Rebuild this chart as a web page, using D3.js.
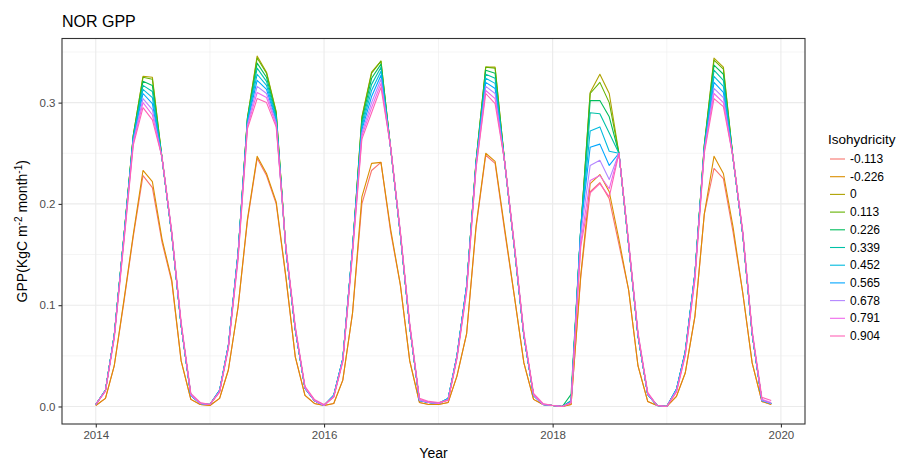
<!DOCTYPE html>
<html>
<head>
<meta charset="utf-8">
<script src="https://cdn.jsdelivr.net/npm/d3@7"></script>
<style>
  body { margin: 0; background: #ffffff; }
  text { font-family: "Liberation Sans", Arial, Helvetica, sans-serif; }
</style>
</head>
<body>
<svg id="chart" width="902" height="461"></svg>
<script>
// Monthly GPP (KgC m-2 month-1) for Norway, one series per isohydricity value
const years = [2014, 2015, 2016, 2017, 2018, 2019];
const monthNumbers = [1, 2, 3, 4, 5, 6, 7, 8, 9, 10, 11, 12];
const isohydricity = ["-0.113", "-0.226", "0", "0.113", "0.226", "0.339", "0.452", "0.565", "0.678", "0.791", "0.904"];
const lineColors = ["#F8766D", "#DB8E00", "#AEA200", "#64B200", "#00BD5C", "#00C1A7", "#00BADE", "#00A6FF", "#B385FF", "#EF67EB", "#FF63B6"];

const gppNeg0113 = [
  0.001, 0.008, 0.04, 0.103, 0.168, 0.228, 0.216, 0.162, 0.123, 0.045, 0.007, 0.002,
  0.001, 0.008, 0.036, 0.098, 0.183, 0.245, 0.228, 0.2, 0.127, 0.049, 0.011, 0.003,
  0.001, 0.003, 0.026, 0.092, 0.2, 0.233, 0.241, 0.172, 0.12, 0.045, 0.004, 0.002,
  0.002, 0.004, 0.03, 0.072, 0.176, 0.248, 0.24, 0.172, 0.108, 0.043, 0.007, 0.002,
  0.001, 0.0, 0.002, 0.128, 0.212, 0.221, 0.205, 0.16, 0.115, 0.04, 0.005, 0.001,
  0.0, 0.01, 0.033, 0.089, 0.19, 0.235, 0.225, 0.172, 0.112, 0.043, 0.005, 0.002
];
const gppNeg0226 = [
  0.001, 0.008, 0.04, 0.105, 0.17, 0.233, 0.222, 0.165, 0.125, 0.045, 0.007, 0.002,
  0.001, 0.008, 0.036, 0.098, 0.185, 0.247, 0.23, 0.202, 0.128, 0.049, 0.011, 0.003,
  0.001, 0.003, 0.026, 0.092, 0.207, 0.24, 0.241, 0.175, 0.12, 0.045, 0.004, 0.002,
  0.002, 0.004, 0.03, 0.072, 0.178, 0.25, 0.242, 0.175, 0.108, 0.043, 0.007, 0.002,
  0.001, 0.0, 0.002, 0.13, 0.22, 0.229, 0.212, 0.165, 0.115, 0.04, 0.005, 0.001,
  0.0, 0.01, 0.033, 0.089, 0.19, 0.247, 0.23, 0.177, 0.112, 0.043, 0.005, 0.002
];
const gpp0 = [
  0.002, 0.016, 0.07, 0.168, 0.268, 0.326, 0.325, 0.245, 0.17, 0.08, 0.011, 0.003,
  0.002, 0.015, 0.059, 0.15, 0.285, 0.346, 0.33, 0.291, 0.155, 0.076, 0.018, 0.006,
  0.001, 0.01, 0.046, 0.155, 0.286, 0.33, 0.341, 0.255, 0.17, 0.079, 0.006, 0.004,
  0.003, 0.007, 0.049, 0.118, 0.242, 0.335, 0.335, 0.24, 0.156, 0.07, 0.011, 0.002,
  0.001, 0.0, 0.005, 0.175, 0.31, 0.328, 0.309, 0.25, 0.16, 0.07, 0.012, 0.001,
  0.0, 0.016, 0.053, 0.13, 0.258, 0.344, 0.335, 0.245, 0.17, 0.072, 0.006, 0.003
];
const gpp0113 = [
  0.002, 0.016, 0.07, 0.168, 0.268, 0.325, 0.323, 0.245, 0.17, 0.08, 0.011, 0.003,
  0.002, 0.015, 0.059, 0.15, 0.285, 0.344, 0.329, 0.29, 0.155, 0.076, 0.018, 0.006,
  0.001, 0.01, 0.046, 0.155, 0.285, 0.329, 0.341, 0.255, 0.17, 0.079, 0.006, 0.004,
  0.003, 0.007, 0.049, 0.118, 0.242, 0.335, 0.334, 0.24, 0.156, 0.07, 0.011, 0.002,
  0.001, 0.0, 0.005, 0.175, 0.309, 0.32, 0.3, 0.25, 0.16, 0.07, 0.012, 0.001,
  0.0, 0.016, 0.053, 0.13, 0.258, 0.342, 0.333, 0.245, 0.17, 0.072, 0.006, 0.003
];
const gpp0226 = [
  0.002, 0.016, 0.07, 0.168, 0.267, 0.321, 0.317, 0.245, 0.17, 0.08, 0.011, 0.003,
  0.002, 0.016, 0.06, 0.151, 0.284, 0.339, 0.325, 0.288, 0.155, 0.076, 0.018, 0.006,
  0.001, 0.011, 0.047, 0.156, 0.282, 0.324, 0.338, 0.255, 0.17, 0.079, 0.006, 0.004,
  0.003, 0.008, 0.05, 0.119, 0.241, 0.332, 0.329, 0.24, 0.156, 0.07, 0.011, 0.002,
  0.001, 0.0, 0.012, 0.176, 0.302, 0.302, 0.286, 0.25, 0.16, 0.07, 0.012, 0.001,
  0.0, 0.017, 0.054, 0.131, 0.257, 0.337, 0.328, 0.245, 0.17, 0.072, 0.006, 0.003
];
const gpp0339 = [
  0.002, 0.016, 0.07, 0.168, 0.266, 0.317, 0.311, 0.245, 0.17, 0.08, 0.011, 0.003,
  0.002, 0.016, 0.06, 0.151, 0.283, 0.334, 0.321, 0.286, 0.155, 0.076, 0.018, 0.006,
  0.001, 0.011, 0.047, 0.156, 0.279, 0.318, 0.335, 0.255, 0.17, 0.079, 0.006, 0.004,
  0.003, 0.008, 0.05, 0.119, 0.24, 0.328, 0.324, 0.24, 0.156, 0.07, 0.011, 0.002,
  0.001, 0.0, 0.006, 0.176, 0.29, 0.289, 0.27, 0.25, 0.16, 0.07, 0.012, 0.001,
  0.0, 0.017, 0.054, 0.131, 0.256, 0.332, 0.322, 0.245, 0.17, 0.072, 0.006, 0.003
];
const gpp0452 = [
  0.002, 0.016, 0.07, 0.167, 0.265, 0.313, 0.305, 0.245, 0.17, 0.08, 0.011, 0.003,
  0.002, 0.016, 0.06, 0.151, 0.282, 0.328, 0.317, 0.284, 0.155, 0.076, 0.018, 0.006,
  0.001, 0.011, 0.047, 0.156, 0.276, 0.312, 0.331, 0.255, 0.17, 0.079, 0.006, 0.004,
  0.003, 0.008, 0.05, 0.119, 0.24, 0.324, 0.319, 0.24, 0.156, 0.07, 0.011, 0.002,
  0.001, 0.0, 0.005, 0.176, 0.272, 0.276, 0.252, 0.25, 0.16, 0.07, 0.012, 0.001,
  0.0, 0.017, 0.054, 0.131, 0.255, 0.326, 0.316, 0.245, 0.17, 0.072, 0.006, 0.003
];
const gpp0565 = [
  0.002, 0.016, 0.07, 0.167, 0.264, 0.309, 0.299, 0.245, 0.17, 0.08, 0.011, 0.003,
  0.002, 0.016, 0.06, 0.151, 0.28, 0.322, 0.313, 0.282, 0.155, 0.076, 0.018, 0.006,
  0.001, 0.011, 0.047, 0.156, 0.273, 0.306, 0.327, 0.255, 0.17, 0.079, 0.006, 0.004,
  0.003, 0.008, 0.05, 0.119, 0.239, 0.32, 0.314, 0.24, 0.156, 0.07, 0.011, 0.002,
  0.001, 0.0, 0.005, 0.176, 0.256, 0.259, 0.238, 0.25, 0.16, 0.07, 0.012, 0.001,
  0.0, 0.017, 0.054, 0.131, 0.254, 0.32, 0.31, 0.245, 0.17, 0.072, 0.006, 0.003
];
const gpp0678 = [
  0.002, 0.016, 0.069, 0.166, 0.262, 0.304, 0.293, 0.245, 0.171, 0.081, 0.011, 0.003,
  0.002, 0.015, 0.059, 0.149, 0.278, 0.316, 0.309, 0.28, 0.156, 0.077, 0.018, 0.006,
  0.001, 0.01, 0.046, 0.154, 0.27, 0.3, 0.323, 0.255, 0.171, 0.08, 0.006, 0.004,
  0.003, 0.007, 0.049, 0.117, 0.238, 0.316, 0.309, 0.24, 0.157, 0.071, 0.011, 0.002,
  0.001, 0.0, 0.004, 0.17, 0.238, 0.243, 0.224, 0.25, 0.161, 0.071, 0.012, 0.001,
  0.0, 0.016, 0.052, 0.129, 0.253, 0.314, 0.305, 0.245, 0.171, 0.073, 0.006, 0.003
];
const gpp0791 = [
  0.002, 0.015, 0.068, 0.164, 0.26, 0.3, 0.288, 0.246, 0.172, 0.082, 0.012, 0.003,
  0.002, 0.015, 0.058, 0.147, 0.276, 0.31, 0.305, 0.278, 0.157, 0.078, 0.019, 0.006,
  0.001, 0.01, 0.045, 0.152, 0.267, 0.295, 0.319, 0.256, 0.172, 0.081, 0.007, 0.004,
  0.003, 0.007, 0.048, 0.115, 0.236, 0.312, 0.304, 0.241, 0.158, 0.072, 0.012, 0.002,
  0.001, 0.0, 0.004, 0.162, 0.223, 0.228, 0.215, 0.25, 0.162, 0.072, 0.013, 0.001,
  0.0, 0.015, 0.051, 0.127, 0.252, 0.309, 0.3, 0.246, 0.172, 0.074, 0.007, 0.004
];
const gpp0904 = [
  0.002, 0.015, 0.067, 0.162, 0.258, 0.295, 0.283, 0.246, 0.173, 0.083, 0.013, 0.004,
  0.002, 0.014, 0.057, 0.145, 0.274, 0.304, 0.3, 0.276, 0.158, 0.079, 0.02, 0.007,
  0.002, 0.009, 0.044, 0.15, 0.264, 0.29, 0.315, 0.256, 0.173, 0.082, 0.008, 0.005,
  0.004, 0.006, 0.047, 0.113, 0.235, 0.309, 0.299, 0.241, 0.159, 0.073, 0.013, 0.003,
  0.001, 0.0, 0.004, 0.158, 0.211, 0.22, 0.207, 0.25, 0.163, 0.073, 0.014, 0.001,
  0.0, 0.014, 0.05, 0.125, 0.25, 0.304, 0.296, 0.246, 0.173, 0.075, 0.009, 0.006
];

const yTicks = [0, 0.1, 0.2, 0.3];
const yMinorTicks = [0.05, 0.15, 0.25, 0.35];
const xTickYears = [2014, 2016, 2018, 2020];
const xMinorYears = [2015, 2017, 2019];

const seriesValues = [gppNeg0113, gppNeg0226, gpp0, gpp0113, gpp0226, gpp0339, gpp0452, gpp0565, gpp0678, gpp0791, gpp0904];

// month start dates, year by year
const months = years.flatMap(y => monthNumbers.map(m => new Date(Date.UTC(y, m - 1, 1))));

const series = isohydricity.map((key, i) => ({
  key,
  color: lineColors[i],
  points: seriesValues[i].map((v, j) => ({ date: months[j], value: v }))
}));

const svg = d3.select("#chart");
const panel = { left: 62, right: 805, top: 38.5, bottom: 424 };

// 5% expansion on both axes
const t0 = +months[0], t1 = +months[months.length - 1];
const tPad = (t1 - t0) * 0.05;
const x = d3.scaleUtc()
  .domain([new Date(t0 - tPad), new Date(t1 + tPad)])
  .range([panel.left, panel.right]);

const allValues = seriesValues.flat();
const vMin = d3.min(allValues), vMax = d3.max(allValues);
const vPad = (vMax - vMin) * 0.05;
const y = d3.scaleLinear()
  .domain([vMin - vPad, vMax + vPad])
  .range([panel.bottom, panel.top]);

const yearDate = yr => new Date(Date.UTC(yr, 0, 1));

// grid
const grid = svg.append("g");
grid.selectAll(".vminor").data(xMinorYears).join("line")
  .attr("x1", d => x(yearDate(d))).attr("x2", d => x(yearDate(d)))
  .attr("y1", panel.top).attr("y2", panel.bottom)
  .attr("stroke", "#EBEBEB").attr("stroke-width", 0.55);
grid.selectAll(".hminor").data(yMinorTicks).join("line")
  .attr("x1", panel.left).attr("x2", panel.right)
  .attr("y1", d => y(d)).attr("y2", d => y(d))
  .attr("stroke", "#EBEBEB").attr("stroke-width", 0.55);
grid.selectAll(".vmajor").data(xTickYears).join("line")
  .attr("x1", d => x(yearDate(d))).attr("x2", d => x(yearDate(d)))
  .attr("y1", panel.top).attr("y2", panel.bottom)
  .attr("stroke", "#EBEBEB").attr("stroke-width", 1.1);
grid.selectAll(".hmajor").data(yTicks).join("line")
  .attr("x1", panel.left).attr("x2", panel.right)
  .attr("y1", d => y(d)).attr("y2", d => y(d))
  .attr("stroke", "#EBEBEB").attr("stroke-width", 1.1);

// lines
const line = d3.line().x(d => x(d.date)).y(d => y(d.value));
svg.append("g").selectAll("path").data(series).join("path")
  .attr("d", d => line(d.points))
  .attr("fill", "none")
  .attr("stroke", d => d.color)
  .attr("stroke-width", 1.1)
  .attr("stroke-linejoin", "round");

// panel border
svg.append("rect")
  .attr("x", panel.left).attr("y", panel.top)
  .attr("width", panel.right - panel.left).attr("height", panel.bottom - panel.top)
  .attr("fill", "none").attr("stroke", "#333333").attr("stroke-width", 1.1);

// axes
const xAxis = svg.append("g")
  .attr("transform", `translate(0,${panel.bottom})`)
  .call(d3.axisBottom(x).tickValues(xTickYears.map(yearDate)).tickFormat(d3.utcFormat("%Y")).tickSize(3.5).tickPadding(3));
const yAxis = svg.append("g")
  .attr("transform", `translate(${panel.left},0)`)
  .call(d3.axisLeft(y).tickValues(yTicks).tickFormat(d3.format(".1f")).tickSize(3.5).tickPadding(3));
[xAxis, yAxis].forEach(a => {
  a.select(".domain").remove();
  a.selectAll(".tick line").attr("stroke", "#333333").attr("stroke-width", 1.1);
  a.selectAll(".tick text").attr("fill", "#4D4D4D").style("font-size", "11.5px");
});

// titles
svg.append("text")
  .attr("x", panel.left).attr("y", 27)
  .style("font-size", "16px").attr("fill", "#000")
  .text("NOR GPP");

svg.append("text")
  .attr("x", (panel.left + panel.right) / 2).attr("y", 458)
  .attr("text-anchor", "middle")
  .style("font-size", "14px").attr("fill", "#000")
  .text("Year");

const yTitle = svg.append("text")
  .attr("transform", `translate(27,${(panel.top + panel.bottom) / 2}) rotate(-90)`)
  .attr("text-anchor", "middle")
  .style("font-size", "14px").attr("fill", "#000");
yTitle.append("tspan").text("GPP(KgC m");
yTitle.append("tspan").attr("dy", -5).style("font-size", "10px").text("-2");
yTitle.append("tspan").attr("dy", 5).text(" month");
yTitle.append("tspan").attr("dy", -5).style("font-size", "10px").text("-1");
yTitle.append("tspan").attr("dy", 5).text(")");

// legend
const legend = svg.append("g").attr("transform", "translate(828,0)");
legend.append("text")
  .attr("x", 0).attr("y", 144)
  .style("font-size", "13.5px").attr("fill", "#000")
  .text("Isohydricity");
const keyStep = 17.7, keyTop = 159;
const items = legend.selectAll(".item").data(series).join("g")
  .attr("transform", (d, i) => `translate(0,${keyTop + i * keyStep})`);
items.append("line")
  .attr("x1", 2).attr("x2", 17)
  .attr("stroke", d => d.color).attr("stroke-width", 1.1);
items.append("text")
  .attr("x", 22).attr("y", 4)
  .style("font-size", "12px").attr("fill", "#000")
  .text(d => d.key);
</script>
</body>
</html>
